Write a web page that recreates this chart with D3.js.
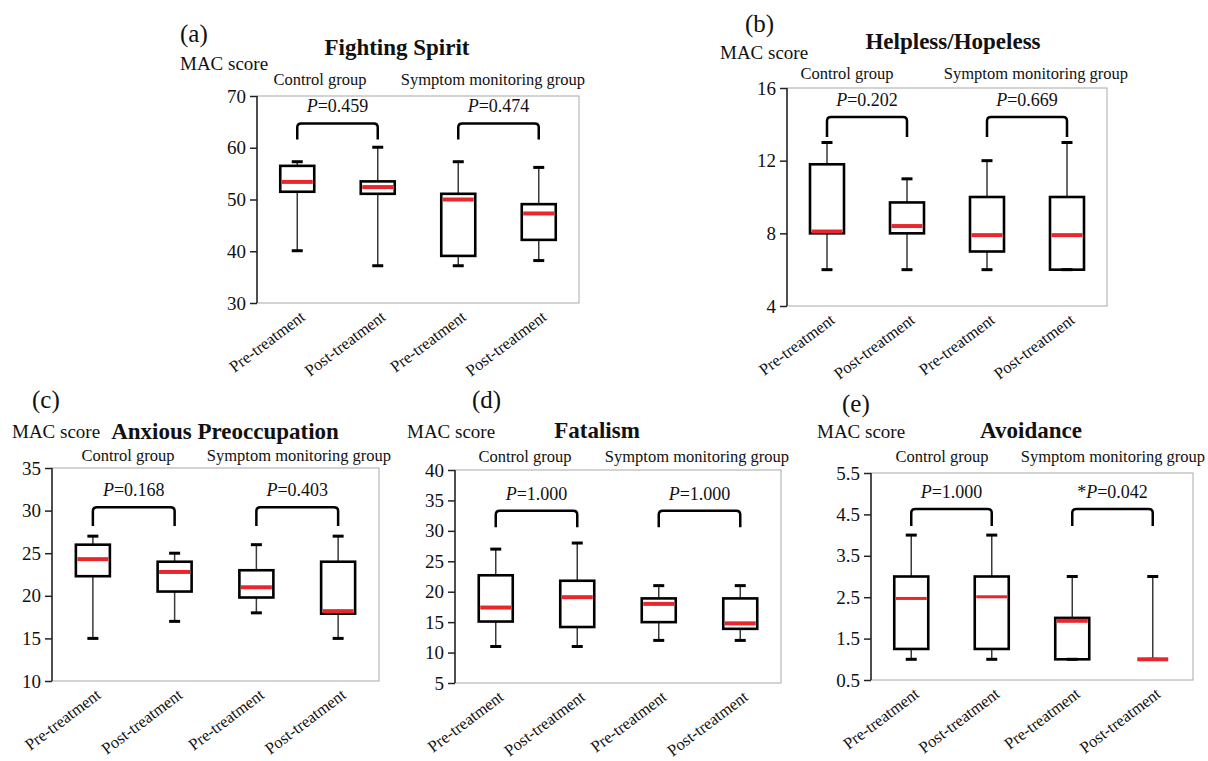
<!DOCTYPE html>
<html lang="en">
  <head>
    <meta charset="utf-8">
    <title>MAC score box plots</title>
    <script src="https://cdnjs.cloudflare.com/ajax/libs/d3/7.8.5/d3.min.js"></script>
    <style>
      body { margin: 0; background: #fff; }
      svg text { font-family: "Liberation Serif", "Times New Roman", serif; fill: #111; }
      .frame { fill: none; stroke: #a8a8a8; stroke-width: 1; }
      .axisY path, .axisY line { stroke: #222; stroke-width: 1.5; }
      .axisY text { font-size: 19px; }
    </style>
  </head>
  <body>
    <div id="chartDiv"></div>
    <script>
      // ---- data ----
      var panelLetters = ["(a)", "(b)", "(c)", "(d)", "(e)"];
      var panelTitles = ["Fighting Spirit", "Helpless/Hopeless", "Anxious Preoccupation", "Fatalism", "Avoidance"];
      var yLabel = "MAC score";
      var groupNames = ["Control group", "Symptom monitoring group"];
      var timepoints = ["Pre-treatment", "Post-treatment", "Pre-treatment", "Post-treatment"];

      var yDomains = [[30, 70], [4, 16], [10, 35], [5, 40], [0.5, 5.5]];
      var yTickValues = [
        [30, 40, 50, 60, 70],
        [4, 8, 12, 16],
        [10, 15, 20, 25, 30, 35],
        [5, 10, 15, 20, 25, 30, 35, 40],
        [0.5, 1.5, 2.5, 3.5, 4.5, 5.5]
      ];

      var whiskerHigh   = [[57.3, 60.1, 57.3, 56.2], [13, 11, 12, 13], [27, 25, 26, 27], [27, 28, 21, 21], [4, 4, 3, 3]];
      var upperQuartile = [[56.5, 53.5, 51.1, 49.1], [11.8, 9.7, 10, 10], [26, 24, 23, 24], [22.7, 21.8, 18.9, 18.9], [3, 3, 2, 1]];
      var medians       = [[53.4, 52.4, 50, 47.3], [8.1, 8.4, 7.9, 7.9], [24.3, 22.8, 21, 18.2], [17.4, 19.1, 18, 14.8], [2.47, 2.51, 1.93, 1]];
      var lowerQuartile = [[51.5, 51.1, 39.1, 42.2], [8, 8, 7, 6], [22.3, 20.5, 19.8, 17.9], [15.1, 14.2, 15, 13.9], [1.25, 1.25, 1, 1]];
      var whiskerLow    = [[40.1, 37.2, 37.2, 38.2], [6, 6, 6, 6], [15, 17, 18, 15], [11, 11, 12, 12], [1, 1, 1, 1]];

      var pPrefix  = [["", ""], ["", ""], ["", ""], ["", ""], ["", "*"]];
      var pNumbers = [["0.459", "0.474"], ["0.202", "0.669"], ["0.168", "0.403"], ["1.000", "1.000"], ["1.000", "0.042"]];
      var bracketTop  = [64.7, 14.4, 30.4, 33.3, 4.63];
      var bracketFoot = [61.6, 13.3, 28.2, 30.6, 4.22];

      // ---- layout (pixels) ----
      var layout = [
        {x0: 257, x1: 579,  y0: 96,  y1: 303, letter: [180, 42],  mac: [180, 70],  title: [397, 55],  groupY: 85,  groupX: [320, 493],  medW: 4},
        {x0: 787, x1: 1107, y0: 88,  y1: 306, letter: [745, 32],  mac: [720, 59],  title: [953, 49],  groupY: 79,  groupX: [847, 1036], medW: 4},
        {x0: 52,  x1: 379,  y0: 468, y1: 681, letter: [32, 408],  mac: [12, 438],  title: [225, 439], groupY: 461, groupX: [128, 299],  medW: 4},
        {x0: 455, x1: 781,  y0: 470, y1: 683, letter: [472, 408], mac: [407, 438], title: [597, 438], groupY: 462, groupX: [525, 697],  medW: 4},
        {x0: 871, x1: 1193, y0: 473, y1: 680, letter: [842, 412], mac: [817, 438], title: [1031, 438], groupY: 462, groupX: [942, 1113], medW: 3}
      ];

      var boxWd = 34;
      var capWd = 11;

      var svg = d3.select("#chartDiv")
          .append("svg")
          .attr("width", 1208)
          .attr("height", 761);

      layout.forEach(function(L, p) {
        var g = svg.append("g");

        var xScale = d3.scaleBand()
                       .domain(d3.range(timepoints.length))
                       .range([L.x0, L.x1]);
        var yScale = d3.scaleLinear()
                       .domain(yDomains[p])
                       .range([L.y1, L.y0]);
        var cx = function(i) { return xScale(i) + xScale.bandwidth() / 2; };

        // frame (light grey top/right/bottom)
        g.append("rect")
         .attr("class", "frame")
         .attr("x", L.x0).attr("y", L.y0)
         .attr("width", L.x1 - L.x0).attr("height", L.y1 - L.y0);

        var yAxis = d3.axisLeft(yScale)
                      .tickValues(yTickValues[p])
                      .tickSize(7)
                      .tickPadding(4)
                      .tickFormat(function(d) { return d3.format("~g")(d); });

        g.append("g")
         .attr("class", "axisY")
         .attr("transform", "translate(" + L.x0 + ",0)")
         .call(yAxis)
         .call(function(s) { s.select(".domain").attr("d", "M0," + L.y0 + "V" + L.y1); });

        // x labels
        g.selectAll("text.xlab")
         .data(timepoints)
         .enter()
         .append("text")
         .attr("class", "xlab")
         .attr("text-anchor", "end")
         .attr("font-size", "16.5px")
         .attr("transform", function(d, i) {
           return "translate(" + (cx(i) + 9) + "," + (L.y1 + 16) + ") rotate(-37)";
         })
         .text(function(d) { return d; });

        var idx = d3.range(timepoints.length);

        // whiskers
        g.selectAll("line.whisker")
         .data(idx)
         .enter()
         .append("line")
         .attr("x1", cx).attr("x2", cx)
         .attr("y1", function(i) { return yScale(whiskerHigh[p][i]); })
         .attr("y2", function(i) { return yScale(whiskerLow[p][i]); })
         .attr("stroke", "#3a3a3a")
         .attr("stroke-width", 1.5);

        // boxes
        g.selectAll("rect.box")
         .data(idx)
         .enter()
         .append("rect")
         .attr("x", function(i) { return cx(i) - boxWd / 2; })
         .attr("y", function(i) { return yScale(upperQuartile[p][i]); })
         .attr("width", boxWd)
         .attr("height", function(i) { return yScale(lowerQuartile[p][i]) - yScale(upperQuartile[p][i]); })
         .attr("fill", "#fff")
         .attr("stroke", "#000")
         .attr("stroke-width", 2.6);

        // caps
        [whiskerHigh, whiskerLow].forEach(function(arr) {
          g.selectAll(null)
           .data(idx)
           .enter()
           .append("line")
           .attr("x1", function(i) { return cx(i) - capWd / 2; })
           .attr("x2", function(i) { return cx(i) + capWd / 2; })
           .attr("y1", function(i) { return yScale(arr[p][i]); })
           .attr("y2", function(i) { return yScale(arr[p][i]); })
           .attr("stroke", "#000")
           .attr("stroke-width", 3);
        });

        // medians
        g.selectAll("line.median")
         .data(idx)
         .enter()
         .append("line")
         .attr("x1", function(i) { return cx(i) - boxWd / 2 + 1.5; })
         .attr("x2", function(i) { return cx(i) + boxWd / 2 - 1.5; })
         .attr("y1", function(i) { return yScale(medians[p][i]); })
         .attr("y2", function(i) { return yScale(medians[p][i]); })
         .attr("stroke", "#e8262b")
         .attr("stroke-width", function(i) { return (p == 4 && i > 1) ? 4 : L.medW; });

        // brackets + P values
        [0, 1].forEach(function(k) {
          var xa = cx(2 * k), xb = cx(2 * k + 1);
          var yt = yScale(bracketTop[p]), yf = yScale(bracketFoot[p]);
          var r = 4;
          g.append("path")
           .attr("d", "M" + xa + "," + yf + "V" + (yt + r) + "Q" + xa + "," + yt + " " + (xa + r) + "," + yt +
                      "H" + (xb - r) + "Q" + xb + "," + yt + " " + xb + "," + (yt + r) + "V" + yf)
           .attr("fill", "none")
           .attr("stroke", "#000")
           .attr("stroke-width", 2.5);

          var t = g.append("text")
                   .attr("x", (xa + xb) / 2)
                   .attr("y", yt - 11)
                   .attr("text-anchor", "middle")
                   .attr("font-size", "18px");
          t.append("tspan").text(pPrefix[p][k]);
          t.append("tspan").attr("font-style", "italic").text("P");
          t.append("tspan").text("=" + pNumbers[p][k]);
        });

        // texts
        g.append("text")
         .attr("x", L.letter[0]).attr("y", L.letter[1])
         .attr("font-size", "25px")
         .text(panelLetters[p]);

        g.append("text")
         .attr("x", L.mac[0]).attr("y", L.mac[1])
         .attr("font-size", "19px")
         .text(yLabel);

        g.append("text")
         .attr("x", L.title[0]).attr("y", L.title[1])
         .attr("text-anchor", "middle")
         .attr("font-size", "23px")
         .attr("font-weight", "bold")
         .text(panelTitles[p]);

        g.selectAll("text.group")
         .data(groupNames)
         .enter()
         .append("text")
         .attr("class", "group")
         .attr("x", function(d, i) { return L.groupX[i]; })
         .attr("y", L.groupY)
         .attr("text-anchor", "middle")
         .attr("font-size", "16.5px")
         .text(function(d) { return d; });
      });
    </script>
  </body>
</html>
